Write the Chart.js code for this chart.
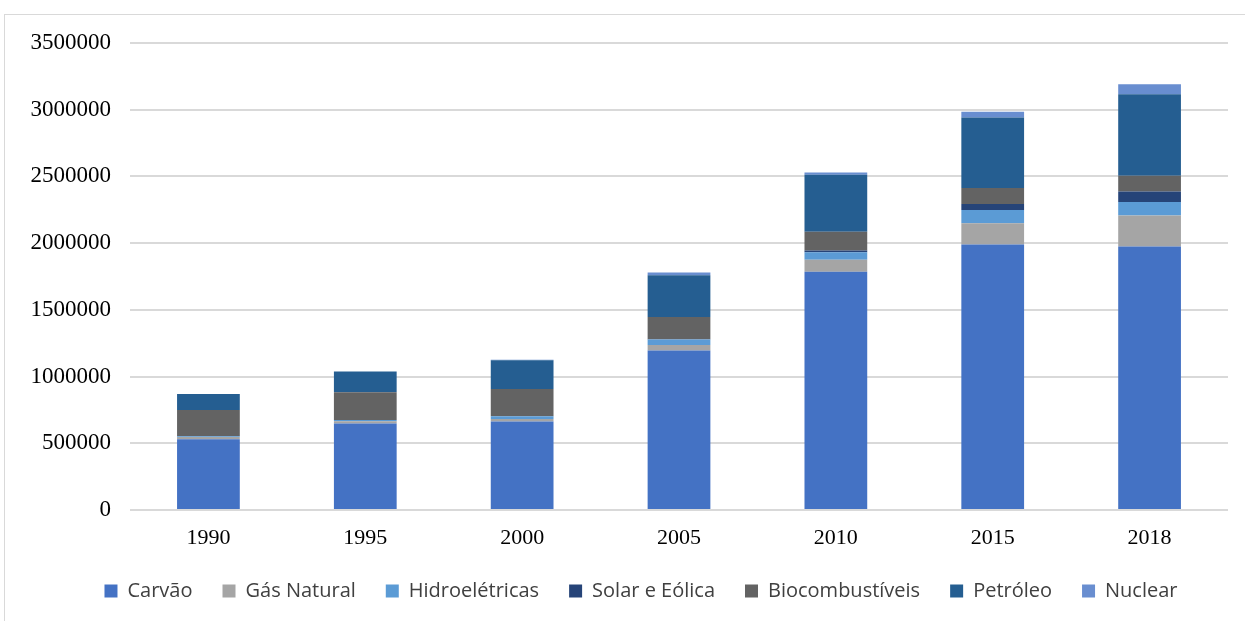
<!DOCTYPE html>
<html>
<head>
<meta charset="utf-8">
<script src="https://cdn.jsdelivr.net/npm/chart.js@4/dist/chart.umd.min.js"></script>
<style>
  body { margin: 0; background: #fff; }
  #frame { position: absolute; left: 4px; top: 14px; width: 1260px; height: 640px; border: 1px solid #d9d9d9; }
  #wrap { position: absolute; left: 0; top: 0; width: 1245px; height: 621px; }
</style>
</head>
<body>
<div id="frame"></div>
<div id="wrap"><canvas id="myChart" width="1245" height="621"></canvas></div>
<script>
const years = ["1990", "1995", "2000", "2005", "2010", "2015", "2018"];
const yTicks = [0, 500000, 1000000, 1500000, 2000000, 2500000, 3000000, 3500000];

const carvao = [530000, 647500, 662500, 1195000, 1785000, 1990000, 1975000];
const gasNatural = [17500, 17500, 20000, 42500, 90000, 160000, 232500];
const hidro = [5000, 10000, 20000, 40000, 57500, 97500, 100000];
const solarEolica = [0, 0, 0, 2000, 12500, 45000, 80000];
const biocomb = [197500, 207500, 205000, 167500, 140000, 120000, 117500];
const petroleo = [120000, 155000, 215000, 312500, 427500, 530000, 610000];
const nuclear = [0, 0, 3000, 20000, 17500, 42500, 75000];

const seriesNames = ["Carvão", "Gás Natural", "Hidroelétricas", "Solar e Eólica", "Biocombustíveis", "Petróleo", "Nuclear"];
const seriesData = [carvao, gasNatural, hidro, solarEolica, biocomb, petroleo, nuclear];
const barColors = ["#4472C4", "#A5A5A5", "#5B9BD5", "#264478", "#636363", "#255E91", "#698ED0"];

const datasets = seriesNames.map((name, i) => ({
  label: name,
  data: seriesData[i],
  backgroundColor: barColors[i],
  borderWidth: 0,
  barPercentage: 0.4,
  categoryPercentage: 1.0
}));

// fixed legend height, and legend row nudged right like the original
const legendPlace = {
  id: "legendPlace",
  beforeInit(chart) {
    const legend = chart.legend;
    if (!legend) return;
    const fit = legend.fit;
    legend.fit = function() {
      fit.call(this);
      this.height = 70;
    };
  },
  afterLayout(chart) {
    if (!chart.legend) return;
    chart.legend.left += 22;
    chart.legend.right += 22;
  }
};

new Chart("myChart", {
  type: "bar",
  data: { labels: years, datasets: datasets },
  options: {
    responsive: false,
    animation: false,
    layout: { padding: { left: 10, right: 17, top: 43, bottom: 0 } },
    plugins: {
      tooltip: { enabled: false },
      legend: {
        position: "bottom",
        labels: {
          boxWidth: 13,
          boxHeight: 13,
          padding: 30,
          color: "#404040",
          font: { family: "'Open Sans', 'DejaVu Sans', sans-serif", size: 20 }
        }
      }
    },
    scales: {
      x: {
        stacked: true,
        afterFit: (scale) => { scale.height = 41; },
        grid: { display: false, drawTicks: false },
        border: { display: false },
        ticks: { color: "#000", padding: 15, font: { family: "'Liberation Serif', serif", size: 22 } }
      },
      y: {
        stacked: true,
        min: 0,
        max: 3500000,
        afterBuildTicks: (scale) => { scale.ticks = yTicks.map(v => ({ value: v })); },
        afterFit: (scale) => { scale.width = 120; },
        grid: { color: "#d9d9d9", lineWidth: 2, drawTicks: false },
        border: { display: false },
        ticks: {
          color: "#000",
          padding: 19,
          font: { family: "'Liberation Serif', serif", size: 23 },
          callback: (v) => String(v)
        }
      }
    }
  },
  plugins: [legendPlace]
});
</script>
</body>
</html>
